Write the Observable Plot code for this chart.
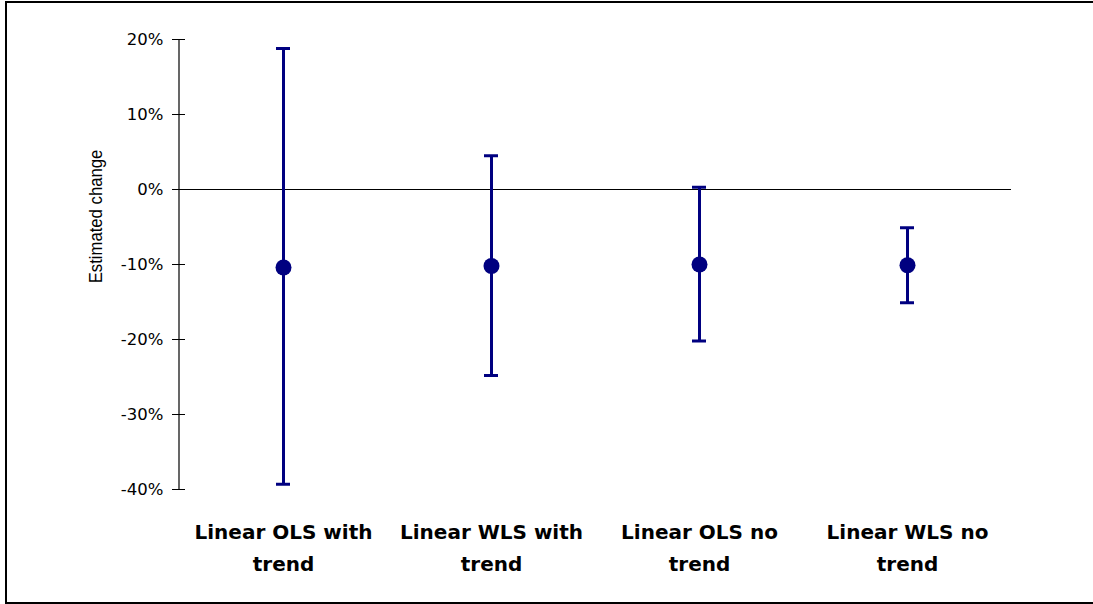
<!DOCTYPE html>
<html>
<head>
<meta charset="utf-8">
<script src="https://cdn.jsdelivr.net/npm/d3@7"></script>
<script src="https://cdn.jsdelivr.net/npm/@observablehq/plot@0.6"></script>
<style>
  html, body { margin: 0; padding: 0; background: #fff; }
  #wrap { position: relative; width: 1093px; height: 604px; overflow: hidden; }
  #border { position: absolute; left: 5px; top: 1px; width: 1100px; height: 603px; border: 2px solid #000; box-sizing: border-box; pointer-events: none; }
  #chart { position: absolute; left: 0; top: 0; }
</style>
</head>
<body>
<div id="wrap">
  <div id="chart"></div>
  <div id="border"></div>
</div>
<script>
const categories = ["Linear OLS with trend", "Linear WLS with trend", "Linear OLS no trend", "Linear WLS no trend"];
const categoryLabels = ["Linear OLS with\ntrend", "Linear WLS with\ntrend", "Linear OLS no\ntrend", "Linear WLS no\ntrend"];
const estimate = [-10.4, -10.2, -10.0, -10.1];
const lower = [-39.3, -24.8, -20.2, -15.1];
const upper = [18.8, 4.5, 0.3, -5.1];
const yTicks = [-40, -30, -20, -10, 0, 10, 20];
const yLabel = "Estimated change";

const data = categories.map((c, i) => ({cat: c, est: estimate[i], lo: lower[i], hi: upper[i]}));
const navy = "#000080";

const axisLine = (index, scales, values, dims) => {
  const g = d3.create("svg:g");
  g.append("line")
    .attr("x1", dims.marginLeft).attr("x2", dims.marginLeft)
    .attr("y1", scales.y(20)).attr("y2", scales.y(-40))
    .attr("stroke", "#000").attr("stroke-width", 1.2);
  return g.node();
};

const plot = Plot.plot({
  width: 1093,
  height: 604,
  marginLeft: 179,
  marginRight: 82,
  marginTop: 39,
  marginBottom: 115,
  style: {fontFamily: "'DejaVu Sans', sans-serif", background: "transparent"},
  x: {domain: categories, padding: 0, label: null},
  y: {domain: [-40, 20], label: null},
  marks: [
    Plot.ruleY([0], {stroke: "#000", strokeWidth: 1.2}),
    axisLine,
    Plot.axisY({ticks: yTicks, tickSize: 7, tickPadding: 9, tickFormat: d => d + "%", fontSize: 16.5, label: null, stroke: "#000", color: "#000"}),
    Plot.axisY({ticks: yTicks, tickSize: -6, tickFormat: () => "", label: null, stroke: "#000"}),
    Plot.axisX({tickSize: 0, tickPadding: 27, fontSize: 20, fontWeight: "bold", lineHeight: 1.6, label: null,
      tickFormat: (d) => categoryLabels[categories.indexOf(d)], color: "#000"}),
    Plot.ruleX(data, {x: "cat", y1: "lo", y2: "hi", stroke: navy, strokeWidth: 3}),
    Plot.tickY(data, {x: "cat", y: "lo", stroke: navy, strokeWidth: 3, insetLeft: 97, insetRight: 97}),
    Plot.tickY(data, {x: "cat", y: "hi", stroke: navy, strokeWidth: 3, insetLeft: 97, insetRight: 97}),
    Plot.dot(data, {x: "cat", y: "est", r: 8, fill: navy, stroke: "none"}),
    Plot.text([yLabel], {frameAnchor: "left", textAnchor: "middle", rotate: -90, dx: -84, dy: -48, fontSize: 19,
      fontFamily: "'Liberation Sans', Arial, sans-serif", fill: "#000", text: d => d})
  ]
});
// compress the rotated label along its length to match the reference's glyph proportions
d3.select(plot).selectAll("text").each(function() {
  if (this.textContent === yLabel) {
    const t = this.getAttribute("transform") || "";
    this.setAttribute("transform", t + " scale(0.88,1)");
  }
});
document.getElementById("chart").appendChild(plot);
</script>
</body>
</html>
